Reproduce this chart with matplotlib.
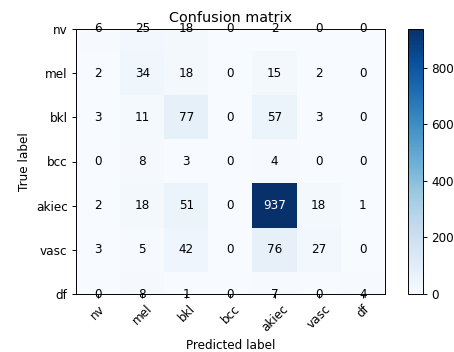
import numpy as np
import matplotlib
matplotlib.use("Agg")
import matplotlib.pyplot as plt

classes = ['nv', 'mel', 'bkl', 'bcc', 'akiec', 'vasc', 'df']
cm = np.array([
    [6, 25, 18, 0, 2, 0, 0],
    [2, 34, 18, 0, 15, 2, 0],
    [3, 11, 77, 0, 57, 3, 0],
    [0, 8, 3, 0, 4, 0, 0],
    [2, 18, 51, 0, 937, 18, 1],
    [3, 5, 42, 0, 76, 27, 0],
    [0, 8, 1, 0, 7, 0, 4],
])

DPI = 86
W, H = 455, 352
fig = plt.figure(figsize=(W / DPI, H / DPI), dpi=DPI)
ax = fig.add_axes([76 / W, 1 - 294 / H, 309 / W, 265 / H])
cax = fig.add_axes([408 / W, 1 - 294 / H, 15 / W, 265 / H])

im = ax.imshow(cm, interpolation='nearest', cmap=plt.cm.Blues, aspect='auto')
ax.set_title('Confusion matrix')
cb = fig.colorbar(im, cax=cax)
cb.set_ticks([0, 200, 400, 600, 800])

tick_marks = np.arange(len(classes))
ax.set_xticks(tick_marks)
ax.set_xticklabels(classes, rotation=45)
ax.set_yticks(tick_marks)
ax.set_yticklabels(classes)

# the old matplotlib crop of the first and last rows
ax.set_xlim(-0.5, len(classes) - 0.5)
ax.set_ylim(len(classes) - 1, 0)

thresh = cm.max() / 2.
for i in range(cm.shape[0]):
    for j in range(cm.shape[1]):
        ax.text(j, i, format(cm[i, j], 'd'),
                ha="center", va="center",
                color="white" if cm[i, j] > thresh else "black")

ax.set_ylabel('True label')
ax.set_xlabel('Predicted label')

fig.savefig('out.png', dpi=DPI)
